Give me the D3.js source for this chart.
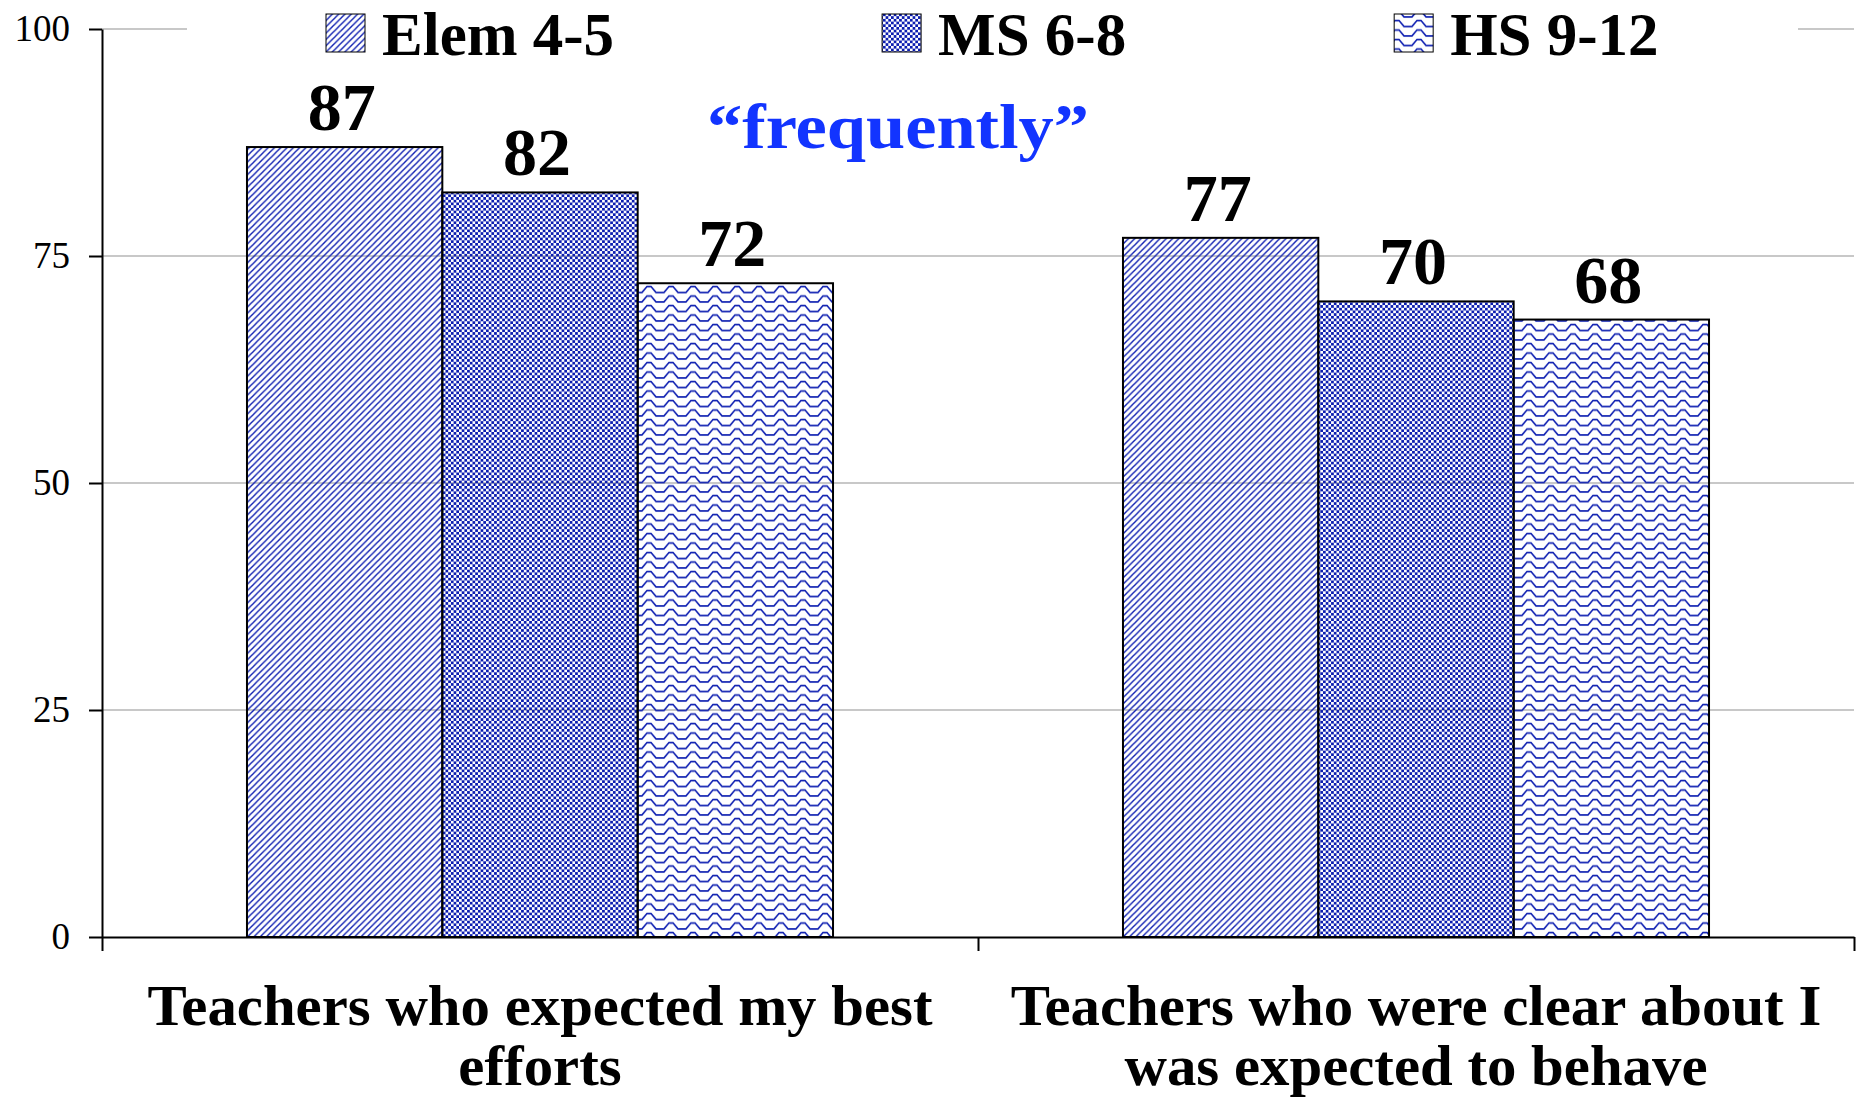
<!DOCTYPE html>
<html>
<head>
<meta charset="utf-8">
<script src="https://cdn.jsdelivr.net/npm/d3@7"></script>
<style>
  body { margin: 0; background: #fff; }
  text { font-family: "Liberation Serif", "Times New Roman", serif; }
</style>
</head>
<body>
<script>
// chart data
var categories = [["Teachers who expected my best", "efforts"],
                  ["Teachers who were clear about I", "was expected to behave"]];
var seriesNames = ["Elem 4-5", "MS 6-8", "HS 9-12"];
var elemValues = [87, 77];
var msValues = [82, 70];
var hsValues = [72, 68];
var yTicks = [0, 25, 50, 75, 100];
var note = "\u201cfrequently\u201d";

var W = 1860, H = 1099;
var plotLeft = 102, plotRight = 1854, plotTop = 29, plotBottom = 937;
var blue = "#0c1db0";

var svg = d3.select("body")
            .append("svg")
            .attr("width", W)
            .attr("height", H);

// fill patterns
var defs = svg.append("defs");

var p1 = defs.append("pattern").attr("id", "pat0")
   .attr("patternUnits", "userSpaceOnUse").attr("width", 6.3).attr("height", 6.3);
p1.append("path")
   .attr("d", "M-1,1 L1,-1 M0,6.3 L6.3,0 M5.3,7.3 L7.3,5.3")
   .attr("stroke", blue).attr("stroke-width", 1.4);

var p2 = defs.append("pattern").attr("id", "pat1")
   .attr("patternUnits", "userSpaceOnUse").attr("width", 5.4).attr("height", 5.4);
p2.append("rect").attr("x", 0).attr("y", 0).attr("width", 2.7).attr("height", 2.7).attr("fill", blue);
p2.append("rect").attr("x", 2.7).attr("y", 2.7).attr("width", 2.7).attr("height", 2.7).attr("fill", blue);

var p3 = defs.append("pattern").attr("id", "pat2")
   .attr("patternUnits", "userSpaceOnUse").attr("width", 22).attr("height", 9.5);
p3.append("path")
   .attr("d", "M-1,7.5 L4,7.5 L9,1.5 L13,1.5 L18,7.5 L23,7.5")
   .attr("fill", "none").attr("stroke", blue).attr("stroke-width", 1.6);

// scales
var x0 = d3.scaleBand()
   .domain(d3.range(categories.length))
   .range([plotLeft, plotRight])
   .paddingInner(0.331)
   .paddingOuter(0.1655);

var x1 = d3.scaleBand()
   .domain(seriesNames)
   .range([0, x0.bandwidth()]);

var y = d3.scaleLinear().domain([0, 100]).range([plotBottom, plotTop]);

var xEdge = d3.scaleLinear().domain([0, categories.length]).range([plotLeft, plotRight]);

// gridlines
svg.selectAll("line.grid")
   .data(yTicks.slice(1))
   .enter()
   .append("line")
   .attr("class", "grid")
   .attr("x1", plotLeft).attr("x2", plotRight)
   .attr("y1", function(d) { return y(d); })
   .attr("y2", function(d) { return y(d); })
   .attr("stroke", "#c8c8c8")
   .attr("stroke-width", 2);

// y axis
var yAxis = svg.append("g")
   .attr("transform", "translate(" + plotLeft + ",0)")
   .call(d3.axisLeft(y).tickValues(yTicks).tickSize(13).tickSizeOuter(0).tickPadding(19));
yAxis.selectAll("path, line").attr("stroke", "#000").attr("stroke-width", 2);
yAxis.selectAll("text")
   .style("font-family", "'Liberation Serif', serif")
   .style("font-size", "37px")
   .attr("fill", "#000");

// bars
var series = [elemValues, msValues, hsValues];
series.forEach(function(vals, s) {
  svg.selectAll("rect.s" + s)
     .data(vals)
     .enter()
     .append("rect")
     .attr("class", "s" + s)
     .attr("x", function(d, i) { return x0(i) + x1(seriesNames[s]); })
     .attr("y", function(d) { return y(d); })
     .attr("width", x1.bandwidth())
     .attr("height", function(d) { return y(0) - y(d); })
     .attr("fill", "url(#pat" + s + ")")
     .attr("stroke", "#000")
     .attr("stroke-width", 2);

  svg.selectAll("text.v" + s)
     .data(vals)
     .enter()
     .append("text")
     .attr("class", "v" + s)
     .text(function(d) { return d; })
     .attr("x", function(d, i) { return x0(i) + x1(seriesNames[s]) + x1.bandwidth() / 2 - 3; })
     .attr("y", function(d) { return y(d) - 17; })
     .attr("text-anchor", "middle")
     .attr("font-size", 68)
     .attr("font-weight", "bold")
     .attr("fill", "#000");
});

// x axis with tick marks at category edges
var xAxis = svg.append("g")
   .attr("transform", "translate(0," + plotBottom + ")")
   .call(d3.axisBottom(xEdge).tickValues(d3.range(categories.length + 1))
          .tickFormat("").tickSize(14).tickSizeOuter(0));
xAxis.selectAll("path, line").attr("stroke", "#000").attr("stroke-width", 2);

// category labels, widened a bit like the original face
function stretch(sel, k) {
  sel.each(function() {
    var len = this.getComputedTextLength();
    d3.select(this).attr("textLength", len * k).attr("lengthAdjust", "spacingAndGlyphs");
  });
}

categories.forEach(function(lines, i) {
  var t = svg.selectAll("text.cat" + i)
     .data(lines)
     .enter()
     .append("text")
     .attr("class", "cat" + i)
     .text(function(d) { return d; })
     .attr("x", x0(i) + x0.bandwidth() / 2)
     .attr("y", function(d, j) { return 1025 + j * 60; })
     .attr("text-anchor", "middle")
     .attr("font-size", 56)
     .attr("font-weight", "bold")
     .attr("fill", "#000");
  stretch(t, 1.05);
});

// legend
svg.append("rect")
   .attr("x", 187).attr("y", 0).attr("width", 1798 - 187).attr("height", 62)
   .attr("fill", "#fff");

var lx = 326;
seriesNames.forEach(function(name, s) {
  svg.append("rect")
     .attr("x", lx).attr("y", 14)
     .attr("width", 39).attr("height", 38)
     .attr("fill", "url(#pat" + s + ")")
     .attr("stroke", "#000").attr("stroke-width", 1);
  var t = svg.append("text")
     .text(name)
     .attr("x", lx + 56).attr("y", 55)
     .attr("font-size", 61)
     .attr("font-weight", "bold")
     .attr("fill", "#000");
  lx = lx + 56 + t.node().getComputedTextLength() + 268;
});

// note
var n = svg.append("text")
   .text(note)
   .attr("x", 898).attr("y", 148)
   .attr("text-anchor", "middle")
   .attr("font-size", 64)
   .attr("font-weight", "bold")
   .attr("fill", "#1234ff");
stretch(n, 1.1);
</script>
</body>
</html>
